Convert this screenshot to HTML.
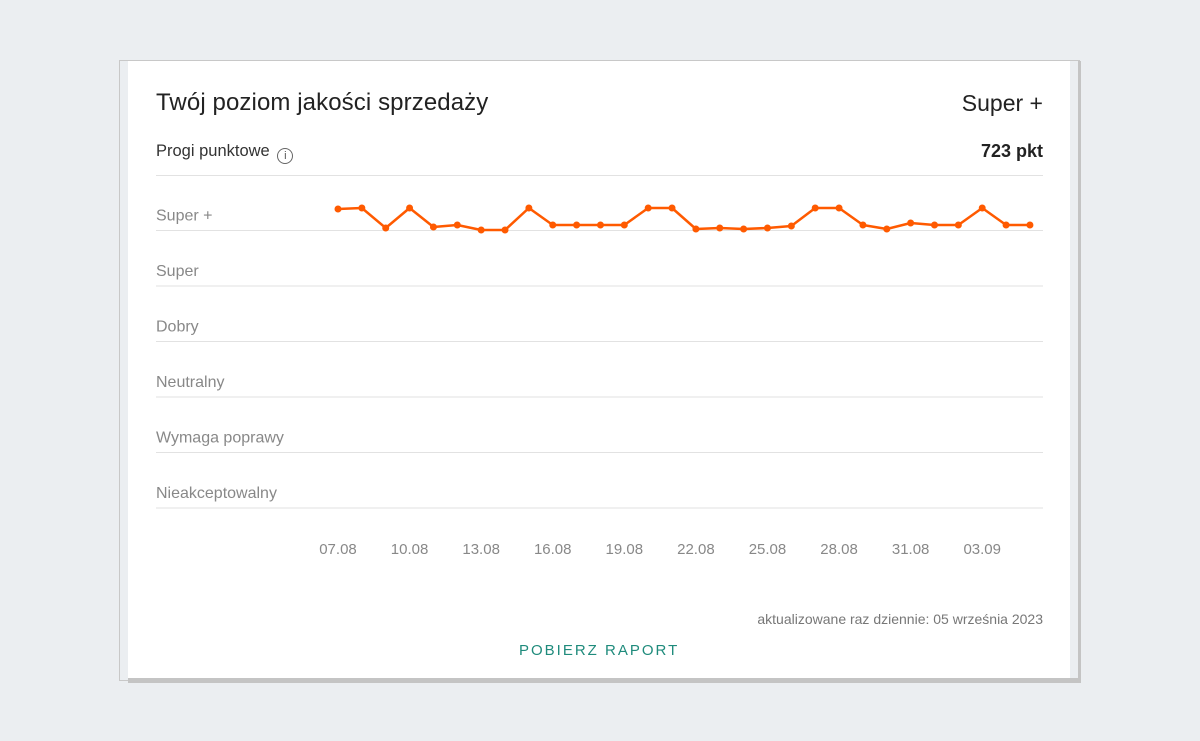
<!DOCTYPE html>
<html><head><meta charset="utf-8"><style>
body{margin:0;width:1200px;height:741px;background:#ebeef1;position:relative;overflow:hidden;font-family:"Liberation Sans",sans-serif}
.abs{position:absolute}
</style></head><body>
<div class="abs" style="left:119px;top:60px;width:961px;height:621px;border:1px solid #c8c8c8;background:#ebeef1;box-sizing:border-box"></div>
<div class="abs" style="left:128px;top:678px;width:953px;height:5px;background:#c4c4c4"></div>
<div class="abs" style="left:1078px;top:61px;width:3px;height:622px;background:#c4c4c4"></div>
<div class="abs" style="left:128px;top:61px;width:942px;height:617px;background:#fff"></div>
<div class="abs" style="left:156px;top:89px;font-size:24px;letter-spacing:0.1px;color:#222">Twój poziom jakości sprzedaży</div>
<div class="abs" style="right:157px;top:90px;font-size:23px;color:#222">Super +</div>
<div class="abs" style="left:156px;top:142px;font-size:16.5px;color:#333">Progi punktowe <span style="display:inline-block;width:14px;height:14px;border:1px solid #666;border-radius:50%;font-size:11px;text-align:center;line-height:14px;color:#555;vertical-align:-3px;margin-left:3px">i</span></div>
<div class="abs" style="right:157px;top:141px;font-size:18px;font-weight:bold;color:#222">723 pkt</div>
<svg class="abs" style="left:0;top:0" width="1200" height="741" id="chart"></svg>
<div class="abs" style="right:157px;top:611px;font-size:14px;color:#777">aktualizowane raz dziennie: 05 września 2023</div>
<div class="abs" style="left:519px;top:642px;font-size:15px;letter-spacing:2px;color:#1f8b7c">POBIERZ RAPORT</div>
<script>
const levels=["Super +","Super","Dobry","Neutralny","Wymaga poprawy","Nieakceptowalny"];
const tickLabels=["07.08","10.08","13.08","16.08","19.08","22.08","25.08","28.08","31.08","03.09"];
const scores=[721,722,702,722,703,705,700,700,722,705,705,705,705,722,722,701,702,701,702,704,722,722,705,701,707,705,705,722,705,705];
const svg=document.getElementById('chart');const NS="http://www.w3.org/2000/svg";
function xPos(i){return 338+i*23.86;}
function yPos(v){return 230-(v-700);}
function mk(t,a){const e=document.createElementNS(NS,t);for(const k in a)e.setAttribute(k,a[k]);svg.appendChild(e);return e;}
let g=mk('line',{x1:156,x2:1043,y1:175.5,y2:175.5,stroke:'#e2e2e2','stroke-width':1});


levels.forEach((l,i)=>{const y=230.5+i*55.5;
const ln=mk('line',{x1:156,x2:1043,y1:y,y2:y,stroke:'#e2e2e2','stroke-width':1});


const t=mk('text',{x:156,y:y-10,'font-size':16,fill:'#888','font-family':'Liberation Sans, sans-serif'});t.textContent=l;

});
tickLabels.forEach((l,i)=>{const t=mk('text',{x:xPos(i*3),y:554,'font-size':15,fill:'#888','text-anchor':'middle','font-family':'Liberation Sans, sans-serif'});t.textContent=l;

});
const pl=mk('polyline',{points:scores.map((v,i)=>xPos(i)+','+yPos(v)).join(' '),fill:'none',stroke:'#ff5a00','stroke-width':2.5,'stroke-linejoin':'round'});


scores.forEach((v,i)=>{const c=mk('circle',{cx:xPos(i),cy:yPos(v),r:3.5,fill:'#ff5a00'});

});
</script>
</body></html>
